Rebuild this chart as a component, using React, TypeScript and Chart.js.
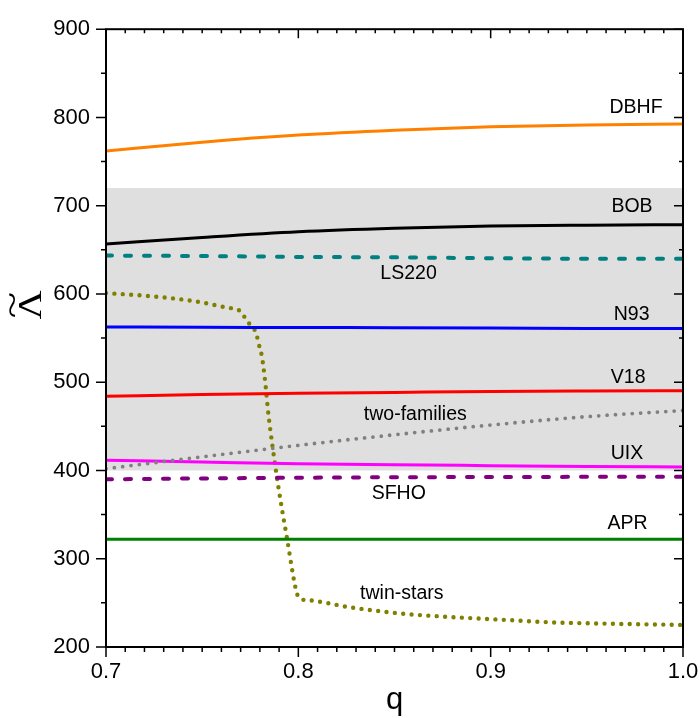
import React, { useEffect, useRef } from "react";
import { Chart, registerables } from "chart.js";

Chart.register(...registerables);

const FONT = "'Liberation Sans', Arial, sans-serif";
const SERIF = "'Liberation Serif', 'DejaVu Serif', serif";

// ---- data ----
const qCommon = [0.7, 0.75, 0.8, 0.85, 0.9, 0.95, 1.0];
const dbhf = [762, 772, 780, 785.5, 789.5, 791.5, 792.5];
const bob = [656.5, 664, 670.5, 674.5, 677, 678, 678.5];
const ls220 = [643.5, 643, 642, 641.5, 640.5, 640, 640];
const n93 = [562.5, 562.3, 562, 561.8, 561.5, 561, 560.8];
const v18 = [484, 486, 487.5, 488.5, 489.5, 490, 490.3];
const twoFamilies = [402, 415.5, 428.5, 440.5, 451.5, 461, 468];
const uix = [411.6, 409.5, 407.6, 406.5, 405.5, 404.5, 404];
const sfho = [390, 391, 391.8, 392.3, 392.6, 392.8, 393];
const apr = [322, 322, 322, 322, 322, 322, 322];

const qTwin = [0.7, 0.72, 0.7454, 0.7627, 0.7705, 0.7725, 0.7752, 0.7778, 0.78, 0.781, 0.7827, 0.7844, 0.7866, 0.7884, 0.7896, 0.7939, 0.7991, 0.8009, 0.8052, 0.8269, 0.853, 0.879, 0.905, 0.931, 0.957, 1.0];
const twinStars = [601, 598, 592, 584.6, 579.5, 572, 564.5, 557, 538.4, 530, 502, 464.5, 427, 399.3, 381.5, 326, 262, 254.6, 253, 245, 238, 234, 231, 228, 226.6, 225];

const xTickValues = [0.7, 0.8, 0.9, 1.0];
const yTickValues = [200, 300, 400, 500, 600, 700, 800, 900];
const bandRange = [400, 720];

const labelTexts = ["DBHF", "BOB", "LS220", "N93", "V18", "two-families", "UIX", "SFHO", "APR", "twin-stars"];
const labelQ = [0.9756, 0.9735, 0.8573, 0.9733, 0.9715, 0.8608, 0.9709, 0.8522, 0.9712, 0.8538];
const labelV = [804.6, 693.1, 617.4, 570.9, 498.9, 457.2, 413.2, 367.7, 334.2, 254];

function pts(xs: number[], ys: number[]) {
  return xs.map((x, i) => ({ x, y: ys[i] }));
}

export default function App() {
  const ref = useRef<HTMLCanvasElement | null>(null);

  useEffect(() => {
    const canvas = ref.current;
    if (!canvas) return;

    const solid = (label: string, data: number[], color: string) => ({
      label,
      data: pts(qCommon, data),
      borderColor: color,
      borderWidth: 3,
      pointRadius: 0,
      cubicInterpolationMode: "monotone" as const,
      fill: false,
    });
    const dashed = (label: string, data: number[], color: string) => ({
      ...solid(label, data, color),
      borderWidth: 4,
      borderDash: [6, 13],
      borderCapStyle: "round" as const,
    });
    const dotted = (label: string, xs: number[], data: number[], color: string, w: number) => ({
      label,
      data: pts(xs, data),
      borderColor: color,
      borderWidth: w,
      borderDash: [0, 8.4],
      borderCapStyle: "round" as const,
      pointRadius: 0,
      cubicInterpolationMode: "monotone" as const,
      fill: false,
    });

    const overlay = {
      id: "overlay",
      beforeDatasetsDraw(chart: any) {
        const { ctx, chartArea, scales } = chart;
        const y1 = scales.y.getPixelForValue(bandRange[1]);
        const y0 = scales.y.getPixelForValue(bandRange[0]);
        ctx.save();
        ctx.fillStyle = "#dfdfdf";
        ctx.fillRect(chartArea.left, y1, chartArea.right - chartArea.left, y0 - y1);
        ctx.restore();
      },
      afterDatasetsDraw(chart: any) {
        const { ctx, chartArea, scales } = chart;
        const { left, right, top, bottom } = chartArea;
        ctx.save();
        // curve labels
        ctx.fillStyle = "#000";
        ctx.font = `19.5px ${FONT}`;
        ctx.textAlign = "center";
        ctx.textBaseline = "alphabetic";
        labelTexts.forEach((t, i) => {
          ctx.fillText(t, scales.x.getPixelForValue(labelQ[i]), scales.y.getPixelForValue(labelV[i]));
        });
        // frame
        ctx.strokeStyle = "#000";
        ctx.lineWidth = 2;
        ctx.strokeRect(left, top, right - left, bottom - top);
        ctx.lineWidth = 1.5;
        ctx.beginPath();
        for (let i = 0; i <= 30; i++) {
          const v = 0.7 + i * 0.01;
          const px = scales.x.getPixelForValue(v);
          const major = i % 10 === 0;
          const lo = major ? 10 : 5;
          const li = major ? 9 : 4;
          ctx.moveTo(px, bottom);
          ctx.lineTo(px, bottom + lo);
          ctx.moveTo(px, top);
          ctx.lineTo(px, top + li);
        }
        for (let i = 0; i <= 14; i++) {
          const v = 200 + i * 50;
          const py = scales.y.getPixelForValue(v);
          const major = i % 2 === 0;
          const lo = major ? 10 : 5;
          const li = major ? 9 : 4;
          ctx.moveTo(left, py);
          ctx.lineTo(left - lo, py);
          ctx.moveTo(right, py);
          ctx.lineTo(right - li, py);
        }
        ctx.stroke();
        // x axis title
        ctx.fillStyle = "#000";
        ctx.font = `31px ${FONT}`;
        ctx.textAlign = "center";
        ctx.textBaseline = "alphabetic";
        ctx.fillText("q", (left + right) / 2, 709);
        // y axis title: Lambda with tilde, rotated
        ctx.translate(41, 305);
        ctx.rotate(-Math.PI / 2);
        ctx.font = `33px ${SERIF}`;
        ctx.save();
        ctx.scale(1.22, 1);
        ctx.fillText("\u039B", 0, 0);
        ctx.restore();
        ctx.save();
        ctx.scale(1.5, 1);
        ctx.textBaseline = "middle";
        ctx.fillText("~", 0, -27);
        ctx.restore();
        ctx.restore();
      },
    };

    const chart = new Chart(canvas, {
      type: "line",
      data: {
        datasets: [
          solid("DBHF", dbhf, "#ff8000"),
          solid("BOB", bob, "#000000"),
          dashed("LS220", ls220, "#008080"),
          solid("N93", n93, "#0000ff"),
          solid("V18", v18, "#ff0000"),
          dotted("two-families", qCommon, twoFamilies, "#808080", 3.8),
          solid("UIX", uix, "#ff00ff"),
          dashed("SFHO", sfho, "#800080"),
          solid("APR", apr, "#008000"),
          dotted("twin-stars", qTwin, twinStars, "#808000", 4.4),
        ],
      },
      options: {
        responsive: true,
        maintainAspectRatio: false,
        animation: false,
        layout: { padding: { top: 21, right: 17, left: 0, bottom: 0 } },
        plugins: { legend: { display: false }, tooltip: { enabled: false } },
        scales: {
          x: {
            type: "linear",
            position: "bottom",
            min: 0.7,
            max: 1.0,
            grid: { display: false, drawTicks: false },
            border: { display: false },
            ticks: {
              color: "#000",
              font: { family: FONT, size: 22 },
              padding: 12,
              maxRotation: 0,
              callback: (v: any) => Number(v).toFixed(1),
            },
            afterBuildTicks: (s: any) => {
              s.ticks = xTickValues.map((v) => ({ value: v }));
            },
            afterFit: (s: any) => {
              s.height = 71;
              s.paddingLeft = 0;
              s.paddingRight = 0;
            },
          },
          y: {
            type: "linear",
            min: 200,
            max: 900,
            grid: { display: false, drawTicks: false },
            border: { display: false },
            ticks: {
              color: "#000",
              font: { family: FONT, size: 22 },
              padding: 16,
            },
            afterBuildTicks: (s: any) => {
              s.ticks = yTickValues.map((v) => ({ value: v }));
            },
            afterFit: (s: any) => {
              s.width = 106;
            },
          },
        },
      },
      plugins: [overlay],
    });

    return () => chart.destroy();
  }, []);

  return (
    <div style={{ position: "absolute", left: 0, top: 0, width: 700, height: 718, background: "#fff" }}>
      <canvas ref={ref} />
    </div>
  );
}
